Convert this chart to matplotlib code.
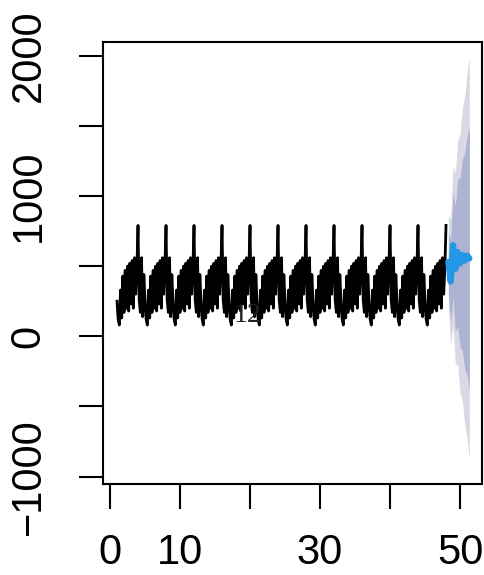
import numpy as np
import matplotlib
matplotlib.use("Agg")
import matplotlib.pyplot as plt

# history: starts at t=1, 6 obs per unit, one spike every 4 units
start = 1.0
freq = 6
history = [
    250, 120, 80, 330, 130, 430, 170, 470, 200, 500, 180, 520, 230, 540, 200, 560, 300, 480, 790, 260, 170, 560, 140, 440,
    250, 120, 80, 330, 130, 430, 170, 470, 200, 500, 180, 520, 230, 540, 200, 560, 300, 480, 790, 260, 170, 560, 140, 440,
    250, 120, 80, 330, 130, 430, 170, 470, 200, 500, 180, 520, 230, 540, 200, 560, 300, 480, 790, 260, 170, 560, 140, 440,
    250, 120, 80, 330, 130, 430, 170, 470, 200, 500, 180, 520, 230, 540, 200, 560, 300, 480, 790, 260, 170, 560, 140, 440,
    250, 120, 80, 330, 130, 430, 170, 470, 200, 500, 180, 520, 230, 540, 200, 560, 300, 480, 790, 260, 170, 560, 140, 440,
    250, 120, 80, 330, 130, 430, 170, 470, 200, 500, 180, 520, 230, 540, 200, 560, 300, 480, 790, 260, 170, 560, 140, 440,
    250, 120, 80, 330, 130, 430, 170, 470, 200, 500, 180, 520, 230, 540, 200, 560, 300, 480, 790, 260, 170, 560, 140, 440,
    250, 120, 80, 330, 130, 430, 170, 470, 200, 500, 180, 520, 230, 540, 200, 560, 300, 480, 790, 260, 170, 560, 140, 440,
    250, 120, 80, 330, 130, 430, 170, 470, 200, 500, 180, 520, 230, 540, 200, 560, 300, 480, 790, 260, 170, 560, 140, 440,
    250, 120, 80, 330, 130, 430, 170, 470, 200, 500, 180, 520, 230, 540, 200, 560, 300, 480, 790, 260, 170, 560, 140, 440,
    250, 120, 80, 330, 130, 430, 170, 470, 200, 500, 180, 520, 230, 540, 200, 560, 300, 480, 790, 260, 170, 560, 140, 440,
    250, 120, 80, 330, 130, 430, 170, 470, 200, 500, 180, 520, 230, 540, 200, 560, 300, 480, 790,
]

# point forecast (3 per unit) and interval half widths
fc_freq = 3
forecast = [530, 390, 650, 480, 600, 520, 580, 540, 575, 555]
half80 = [215, 295, 375, 445, 525, 600, 680, 765, 850, 935]
half95 = [330, 450, 570, 680, 800, 920, 1040, 1170, 1300, 1430]

label_text = "12"
label_pos = (19.7, 145)

t_hist = start + np.arange(len(history)) / freq
t_fc = t_hist[-1] + (np.arange(len(forecast)) + 1) / fc_freq
fc = np.array(forecast)
h80 = np.array(half80)
h95 = np.array(half95)

fig = plt.figure(figsize=(4.85, 5.75), dpi=100)
ax = fig.add_axes([0.2124, 0.1583, 0.7814, 0.7687])

ax.fill_between(t_fc, fc - h95, fc + h95, color="#D9D9E3", lw=0, zorder=1)
ax.fill_between(t_fc, fc - h80, fc + h80, color="#AEB2D3", lw=0, zorder=1.5)
ax.plot(t_hist, history, color="black", lw=2.0, zorder=2)
ax.text(label_pos[0], label_pos[1], label_text, family="Liberation Serif",
        fontsize=20, ha="center", va="center", color="#222222", zorder=2.5)
ax.plot(t_fc, fc, color="#2297E6", lw=4.5, solid_capstyle="round", zorder=3)

ax.set_xlim(-1.0, 53.14)
ax.set_ylim(-1053, 2098)

ax.set_xticks([0, 10, 20, 30, 40, 50])
ax.set_xticklabels(["0", "10", "", "30", "", "50"])
ax.set_yticks([-1000, -500, 0, 500, 1000, 1500, 2000])
ax.set_yticklabels(["\u22121000", "", "0", "", "1000", "", "2000"],
                   rotation=90, va="center")

for lab in ax.get_xticklabels() + ax.get_yticklabels():
    lab.set_family("Liberation Sans")
    lab.set_fontsize(30)
ax.tick_params(axis="x", length=18, width=1.5, pad=17)
ax.tick_params(axis="y", length=17, width=1.5, pad=22)
for s in ax.spines.values():
    s.set_linewidth(1.5)

fig.savefig("out.png", dpi=100)
